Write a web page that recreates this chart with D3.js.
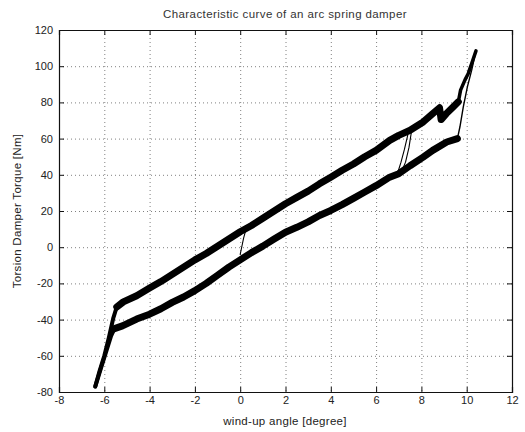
<!DOCTYPE html>
<html><head><meta charset="utf-8">
<script src="https://cdn.jsdelivr.net/npm/d3@7"></script>
<style>
html,body{margin:0;padding:0;background:#fff;}
svg{display:block;}
text{font-family:"Liberation Sans",Arial,sans-serif;}
</style></head>
<body><svg id="chart" width="525" height="432"></svg>
<script>
// ---- data ----
const title = "Characteristic curve of an arc spring damper";
const xLabel = "wind-up angle [degree]";
const yLabel = "Torsion Damper Torque [Nm]";
const xTicks = [-8,-6,-4,-2,0,2,4,6,8,10,12];
const yTicks = [-80,-60,-40,-20,0,20,40,60,80,100,120];

// upper (thick, noisy) branch
const upperBand = [[-5.45,-33],[-5.16,-30.2],[-4.57,-26.8],[-4,-22.6],[-3.5,-19],[-3,-15],[-2.5,-11],[-2,-7],[-1.5,-3.5],[-1,0.5],[-0.5,4.5],[0,8.5],[0.5,12],[1,16],[1.5,20],[2,24],[2.5,27.5],[3,31],[3.5,35],[4,38.7],[4.5,42.5],[5,46],[5.5,50],[6,53.5],[6.6,59],[7,61.8],[7.5,64.6],[8.08,69.2],[8.5,73.8],[8.8,77],[8.87,70.5],[9.1,73.8],[9.4,77.5],[9.63,80.3]];
// lower (thick, noisy) branch
const lowerBand = [[-5.55,-45],[-5.2,-43.5],[-4.57,-39.7],[-4,-37],[-3.5,-34],[-3,-30.5],[-2.5,-27.5],[-2,-24],[-1.5,-20],[-1,-15.5],[-0.5,-11],[0,-7],[0.5,-3],[1,0.6],[1.5,4.5],[2,8.3],[2.5,11],[3,14],[3.5,17.5],[4,20.3],[4.5,23.5],[5,27],[5.5,30.5],[6,34],[6.6,38.7],[7,40.6],[7.5,45],[8.08,49.8],[8.5,53.5],[9.12,58.1],[9.59,60]];
// steep end segments
const leftSteepUpper = [[-6.4,-77],[-6.2,-68],[-6.0,-60],[-5.8,-50],[-5.6,-39],[-5.45,-33]];
const leftSteepLower = [[-6.4,-77],[-6.15,-67],[-5.9,-57],[-5.7,-49],[-5.55,-45]];
const rightSteepUpper = [[9.63,80.3],[9.73,86.8],[9.92,92.3],[10.07,96],[10.22,101.5],[10.41,108.5]];
const rightSteepLower = [[9.59,60],[9.7,66.4],[9.85,77.5],[10.03,88.6],[10.22,97.8],[10.41,108.5]];
// thin reversal lines
const reversalA = [[0.27,10.5],[0.15,5],[0.05,-1],[0.0,-4]];
const reversalB = [[7.55,63],[7.45,55],[7.3,47],[7.1,41]];
const reversalC = [[7.4,62],[7.25,54],[7.1,47],[6.95,41]];

// ---- drawing ----
const svg = d3.select("#chart");
const L = 59, R = 512, T = 30, B = 392;
const x = d3.scaleLinear().domain([-8,12]).range([L,R]);
const y = d3.scaleLinear().domain([-80,120]).range([B,T]);

// grid
const grid = svg.append("g").attr("stroke","#808080").attr("stroke-width",1).attr("stroke-dasharray","1,3");
grid.selectAll("line.gx").data(xTicks.slice(1,-1)).enter().append("line")
  .attr("x1",d=>x(d)+0.5).attr("x2",d=>x(d)+0.5).attr("y1",T).attr("y2",B);
grid.selectAll("line.gy").data(yTicks.slice(1,-1)).enter().append("line")
  .attr("y1",d=>y(d)+0.5).attr("y2",d=>y(d)+0.5).attr("x1",L).attr("x2",R);

// curves
const line = d3.line().x(d=>x(d[0])).y(d=>y(d[1])).curve(d3.curveLinear);
const curves = [
  [upperBand,7],[lowerBand,7],
  [leftSteepUpper,4],[leftSteepLower,4],
  [rightSteepUpper,3.5],[rightSteepLower,1.4],
  [reversalA,1.1],[reversalB,1.1],[reversalC,1.1]
];
svg.append("g").selectAll("path").data(curves).enter().append("path")
  .attr("d",d=>line(d[0])).attr("fill","none").attr("stroke","#000")
  .attr("stroke-width",d=>d[1]).attr("stroke-linejoin","round").attr("stroke-linecap","round");

// axes (MATLAB style inward ticks)
const fmt = d=>String(d);
const ax = svg.append("g").attr("transform",`translate(0,${B})`)
  .call(d3.axisBottom(x).tickValues(xTicks).tickFormat(fmt).tickSize(-5).tickPadding(4));
const ay = svg.append("g").attr("transform",`translate(${L},0)`)
  .call(d3.axisLeft(y).tickValues(yTicks).tickFormat(fmt).tickSize(-5).tickPadding(6));
const axT = svg.append("g").attr("transform",`translate(0,${T})`)
  .call(d3.axisTop(x).tickValues(xTicks).tickFormat("").tickSize(-5));
const ayR = svg.append("g").attr("transform",`translate(${R},0)`)
  .call(d3.axisRight(y).tickValues(yTicks).tickFormat("").tickSize(-5));
[ax,ay,axT,ayR].forEach(g=>{
  g.selectAll("path.domain").attr("stroke","#111").attr("stroke-width",1.2);
  g.selectAll(".tick line").attr("stroke","#111");
  g.selectAll("text").attr("font-size","11px").attr("fill","#222")
   .attr("font-family","'Liberation Sans',Arial,sans-serif");
});

// labels
svg.append("text").attr("x",285).attr("y",18).attr("text-anchor","middle")
  .attr("font-size","11.5px").attr("fill","#333").attr("letter-spacing","0.4px").text(title);
svg.append("text").attr("x",285).attr("y",425).attr("text-anchor","middle")
  .attr("font-size","11.5px").attr("fill","#222").attr("letter-spacing","0.3px").text(xLabel);
svg.append("text").attr("transform",`translate(21,${(T+B)/2}) rotate(-90)`).attr("text-anchor","middle")
  .attr("font-size","11.5px").attr("fill","#222").attr("letter-spacing","0.3px").text(yLabel);
</script></body></html>
